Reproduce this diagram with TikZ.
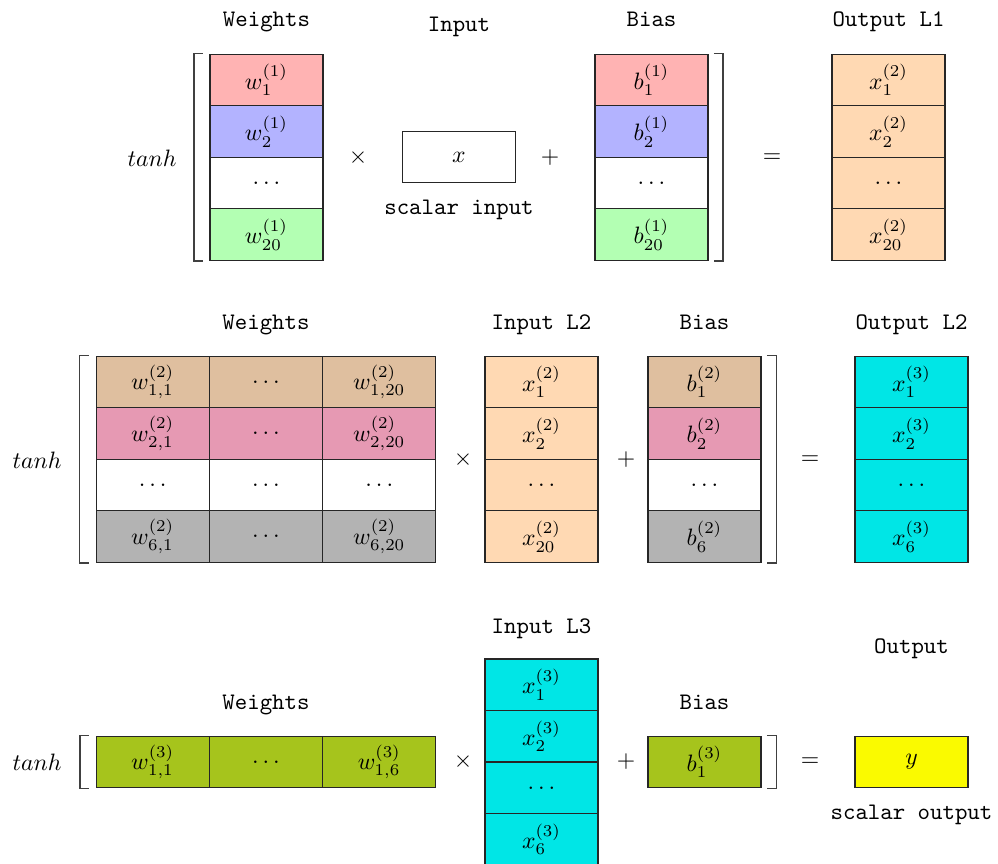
\documentclass[tikz,border=0pt]{standalone}
\usetikzlibrary{calc}
\definecolor{cRed}{RGB}{255,179,179}
\definecolor{cBlue}{RGB}{179,179,255}
\definecolor{cGreen}{RGB}{179,255,179}
\definecolor{cPeach}{RGB}{255,217,179}
\definecolor{cTan}{RGB}{223,191,159}
\definecolor{cPink}{RGB}{230,153,179}
\definecolor{cGray}{RGB}{179,179,179}
\definecolor{cCyan}{RGB}{0,230,230}
\definecolor{cOlive}{RGB}{166,196,28}
\definecolor{cYellow}{RGB}{250,250,0}
\begin{document}
\begin{tikzpicture}[x=0.422pt,y=-0.422pt,
  cell/.style={draw=black!85, line width=0.5pt, minimum width=47.69pt, minimum height=21.73pt, inner sep=0pt, anchor=center},
  lbl/.style={font=\ttfamily, anchor=base, inner sep=0pt},
  op/.style={inner sep=0pt, anchor=center},
  brk/.style={draw=black!75, line width=0.65pt}]
\useasboundingbox (0,0) rectangle (998,864);
\clip (0,0) rectangle (998,864);

% ---------------- Row 1 ----------------
\node[lbl] (lw1) at (266.5,27) {Weights};
\node[lbl] (li1) at (459,31.5) {Input};
\node[lbl] (lb1) at (651.5,27) {Bias};
\node[lbl] (lo1) at (888.5,27) {Output L1};

\node[op] (t1) at (152,158) {$tanh$};
\node[cell,fill=cRed]   (w1a) at (266.5,80)    {$w^{(1)}_{1}$};
\node[cell,fill=cBlue]  (w1b) at (266.5,131.5) {$w^{(1)}_{2}$};
\node[cell,fill=white]  (w1c) at (266.5,183)   {$\ldots$};
\node[cell,fill=cGreen] (w1d) at (266.5,234.5) {$w^{(1)}_{20}$};
\node[op] (m1) at (358,158) {$\times$};
\node[cell,fill=white] (x1) at (459,157) {$x$};
\node[lbl] (si) at (459,215) {scalar input};
\node[op] (p1) at (550,158) {$+$};
\node[cell,fill=cRed]   (b1a) at (651.5,80)    {$b^{(1)}_{1}$};
\node[cell,fill=cBlue]  (b1b) at (651.5,131.5) {$b^{(1)}_{2}$};
\node[cell,fill=white]  (b1c) at (651.5,183)   {$\ldots$};
\node[cell,fill=cGreen] (b1d) at (651.5,234.5) {$b^{(1)}_{20}$};
\node[op] (e1) at (772,158) {$=$};
\node[cell,fill=cPeach] (o1a) at (888.5,80)    {$x^{(2)}_{1}$};
\node[cell,fill=cPeach] (o1b) at (888.5,131.5) {$x^{(2)}_{2}$};
\node[cell,fill=cPeach] (o1c) at (888.5,183)   {$\ldots$};
\node[cell,fill=cPeach] (o1d) at (888.5,234.5) {$x^{(2)}_{20}$};

\draw[brk] ([xshift=-2.8pt]w1a.north west) -- ([xshift=-6.5pt]w1a.north west) -- ([xshift=-6.5pt]w1d.south west) -- ([xshift=-2.8pt]w1d.south west);
\draw[brk] ([xshift=2.2pt]b1a.north east) -- ([xshift=6pt]b1a.north east) -- ([xshift=6pt]b1d.south east) -- ([xshift=2.2pt]b1d.south east);

% ---------------- Row 2 ----------------
\node[lbl] (lw2) at (266,330) {Weights};
\node[lbl] (li2) at (541.5,330) {Input L2};
\node[lbl] (lb2) at (704.5,330) {Bias};
\node[lbl] (lo2) at (911.5,330) {Output L2};

\node[op] (t2) at (37,460) {$tanh$};
\node[cell,fill=cTan]  (w2aa) at (152.7,382) {$w^{(2)}_{1,1}$};
\node[cell,fill=cTan]  (w2ab) at (266,382)   {$\ldots$};
\node[cell,fill=cTan]  (w2ac) at (379.3,382) {$w^{(2)}_{1,20}$};
\node[cell,fill=cPink] (w2ba) at (152.7,433.5) {$w^{(2)}_{2,1}$};
\node[cell,fill=cPink] (w2bb) at (266,433.5)   {$\ldots$};
\node[cell,fill=cPink] (w2bc) at (379.3,433.5) {$w^{(2)}_{2,20}$};
\node[cell,fill=white] (w2ca) at (152.7,485) {$\ldots$};
\node[cell,fill=white] (w2cb) at (266,485)   {$\ldots$};
\node[cell,fill=white] (w2cc) at (379.3,485) {$\ldots$};
\node[cell,fill=cGray] (w2da) at (152.7,536.5) {$w^{(2)}_{6,1}$};
\node[cell,fill=cGray] (w2db) at (266,536.5)   {$\ldots$};
\node[cell,fill=cGray] (w2dc) at (379.3,536.5) {$w^{(2)}_{6,20}$};
\node[op] (m2) at (463,460) {$\times$};
\node[cell,fill=cPeach] (i2a) at (541.5,382)   {$x^{(2)}_{1}$};
\node[cell,fill=cPeach] (i2b) at (541.5,433.5) {$x^{(2)}_{2}$};
\node[cell,fill=cPeach] (i2c) at (541.5,485)   {$\ldots$};
\node[cell,fill=cPeach] (i2d) at (541.5,536.5) {$x^{(2)}_{20}$};
\node[op] (p2) at (626,460) {$+$};
\node[cell,fill=cTan]   (b2a) at (704.5,382)   {$b^{(2)}_{1}$};
\node[cell,fill=cPink]  (b2b) at (704.5,433.5) {$b^{(2)}_{2}$};
\node[cell,fill=white]  (b2c) at (704.5,485)   {$\ldots$};
\node[cell,fill=cGray]  (b2d) at (704.5,536.5) {$b^{(2)}_{6}$};
\node[op] (e2) at (810,460) {$=$};
\node[cell,fill=cCyan] (o2a) at (911.5,382)   {$x^{(3)}_{1}$};
\node[cell,fill=cCyan] (o2b) at (911.5,433.5) {$x^{(3)}_{2}$};
\node[cell,fill=cCyan] (o2c) at (911.5,485)   {$\ldots$};
\node[cell,fill=cCyan] (o2d) at (911.5,536.5) {$x^{(3)}_{6}$};

\draw[brk] ([xshift=-2.8pt]w2aa.north west) -- ([xshift=-6.7pt]w2aa.north west) -- ([xshift=-6.7pt]w2da.south west) -- ([xshift=-2.8pt]w2da.south west);
\draw[brk] ([xshift=2.2pt]b2a.north east) -- ([xshift=6.2pt]b2a.north east) -- ([xshift=6.2pt]b2d.south east) -- ([xshift=2.2pt]b2d.south east);

% ---------------- Row 3 ----------------
\node[lbl] (lw3) at (266,709) {Weights};
\node[lbl] (li3) at (541.5,633) {Input L3};
\node[lbl] (lb3) at (704.5,709) {Bias};
\node[lbl] (lo3) at (911.5,653) {Output};

\node[op] (t3) at (37,762) {$tanh$};
\node[cell,fill=cOlive] (w3a) at (152.7,762) {$w^{(3)}_{1,1}$};
\node[cell,fill=cOlive] (w3b) at (266,762)   {$\ldots$};
\node[cell,fill=cOlive] (w3c) at (379.3,762) {$w^{(3)}_{1,6}$};
\node[op] (m3) at (463,762) {$\times$};
\node[cell,fill=cCyan] (i3a) at (541.5,684.75) {$x^{(3)}_{1}$};
\node[cell,fill=cCyan] (i3b) at (541.5,736.25) {$x^{(3)}_{2}$};
\node[cell,fill=cCyan] (i3c) at (541.5,787.75) {$\ldots$};
\node[cell,fill=cCyan] (i3d) at (541.5,839.25) {$x^{(3)}_{6}$};
\node[op] (p3) at (626,762) {$+$};
\node[cell,fill=cOlive] (b3a) at (704.5,762) {$b^{(3)}_{1}$};
\node[op] (e3) at (810,762) {$=$};
\node[cell,fill=cYellow] (y3) at (911.5,762) {$y$};
\node[lbl] (so) at (911.5,819) {scalar output};

\draw[brk] ([xshift=-2.8pt]w3a.north west) -- ([xshift=-6.5pt]w3a.north west) -- ([xshift=-6.5pt]w3a.south west) -- ([xshift=-2.8pt]w3a.south west);
\draw[brk] ([xshift=2.2pt]b3a.north east) -- ([xshift=6.2pt]b3a.north east) -- ([xshift=6.2pt]b3a.south east) -- ([xshift=2.2pt]b3a.south east);
\end{tikzpicture}
\end{document}
